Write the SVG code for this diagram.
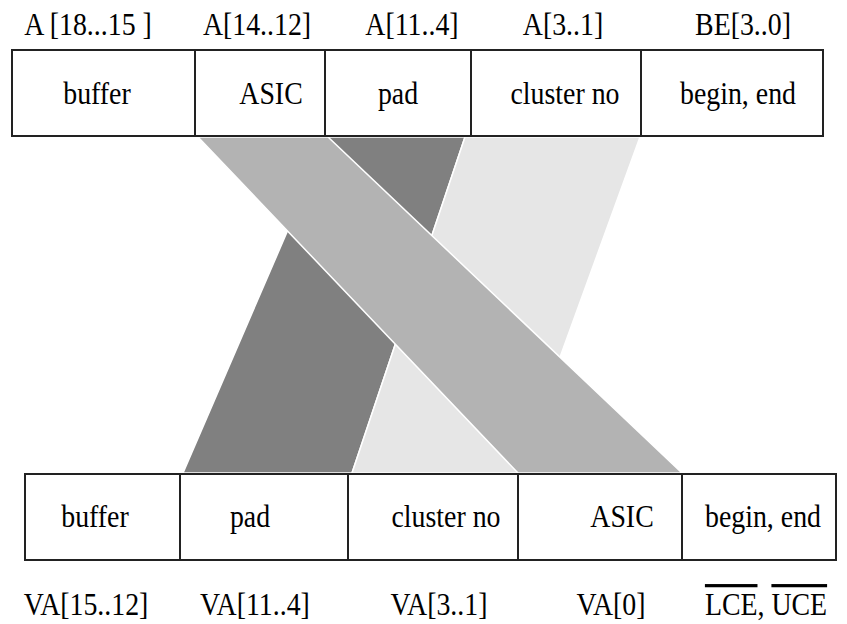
<svg xmlns="http://www.w3.org/2000/svg" width="847" height="624" viewBox="0 0 847 624">
<style>
text{font-size:32px;fill:#000;text-anchor:middle}
.cell{fill:#fff;stroke:#222;stroke-width:2}
.band{stroke:#fff;stroke-width:1.5;stroke-linejoin:miter}
.asic{fill:#b3b3b3}.pad{fill:#808080}.clu{fill:#e6e6e6}
</style>
<rect width="847" height="624" fill="#fff"/>
<g id="connectors">
<polygon class="band pad" points="328,137 465,137 352,473 183,473"/>
<polygon class="band clu" points="465,137 640,137 518,473 352,473"/>
<polygon class="band asic" points="198,137 328,137 682,473 518,473"/>
</g>
<g font-family="Liberation Serif, Times New Roman, serif">
<g id="top-labels">
<text transform="translate(88,35) scale(0.87,1)">A [18...15 ]</text>
<text transform="translate(257,35) scale(0.87,1)">A[14..12]</text>
<text transform="translate(412,35) scale(0.87,1)">A[11..4]</text>
<text transform="translate(563,35) scale(0.87,1)">A[3..1]</text>
<text transform="translate(743,35) scale(0.87,1)">BE[3..0]</text>
</g>
<g id="top-buffer"><rect class="cell" x="12" y="50" width="183" height="86"/><text transform="translate(97,104) scale(0.87,1)">buffer</text></g>
<g id="top-asic"><rect class="cell" x="195" y="50" width="130" height="86"/><text transform="translate(271,104) scale(0.87,1)">ASIC</text></g>
<g id="top-pad"><rect class="cell" x="325" y="50" width="146" height="86"/><text transform="translate(398,104) scale(0.87,1)">pad</text></g>
<g id="top-cluster"><rect class="cell" x="471" y="50" width="170" height="86"/><text transform="translate(565,104) scale(0.87,1)">cluster no</text></g>
<g id="top-beginend"><rect class="cell" x="641" y="50" width="182" height="86"/><text transform="translate(738,104) scale(0.87,1)">begin, end</text></g>
<g id="bot-buffer"><rect class="cell" x="25" y="474" width="155" height="86"/><text transform="translate(95,527) scale(0.87,1)">buffer</text></g>
<g id="bot-pad"><rect class="cell" x="180" y="474" width="168" height="86"/><text transform="translate(250,527) scale(0.87,1)">pad</text></g>
<g id="bot-cluster"><rect class="cell" x="348" y="474" width="170" height="86"/><text transform="translate(446,527) scale(0.87,1)">cluster no</text></g>
<g id="bot-asic"><rect class="cell" x="518" y="474" width="164" height="86"/><text transform="translate(622,527) scale(0.87,1)">ASIC</text></g>
<g id="bot-beginend"><rect class="cell" x="682" y="474" width="154" height="86"/><text transform="translate(763,527) scale(0.87,1)">begin, end</text></g>
<g id="bottom-labels">
<text transform="translate(86,615) scale(0.87,1)">VA[15..12]</text>
<text transform="translate(255,615) scale(0.87,1)">VA[11..4]</text>
<text transform="translate(439,615) scale(0.87,1)">VA[3..1]</text>
<text transform="translate(611,615) scale(0.87,1)">VA[0]</text>
<text transform="translate(766,615) scale(0.87,1)"><tspan text-decoration="overline">LCE</tspan>, <tspan text-decoration="overline">UCE</tspan></text>
</g>
</g>
</svg>
